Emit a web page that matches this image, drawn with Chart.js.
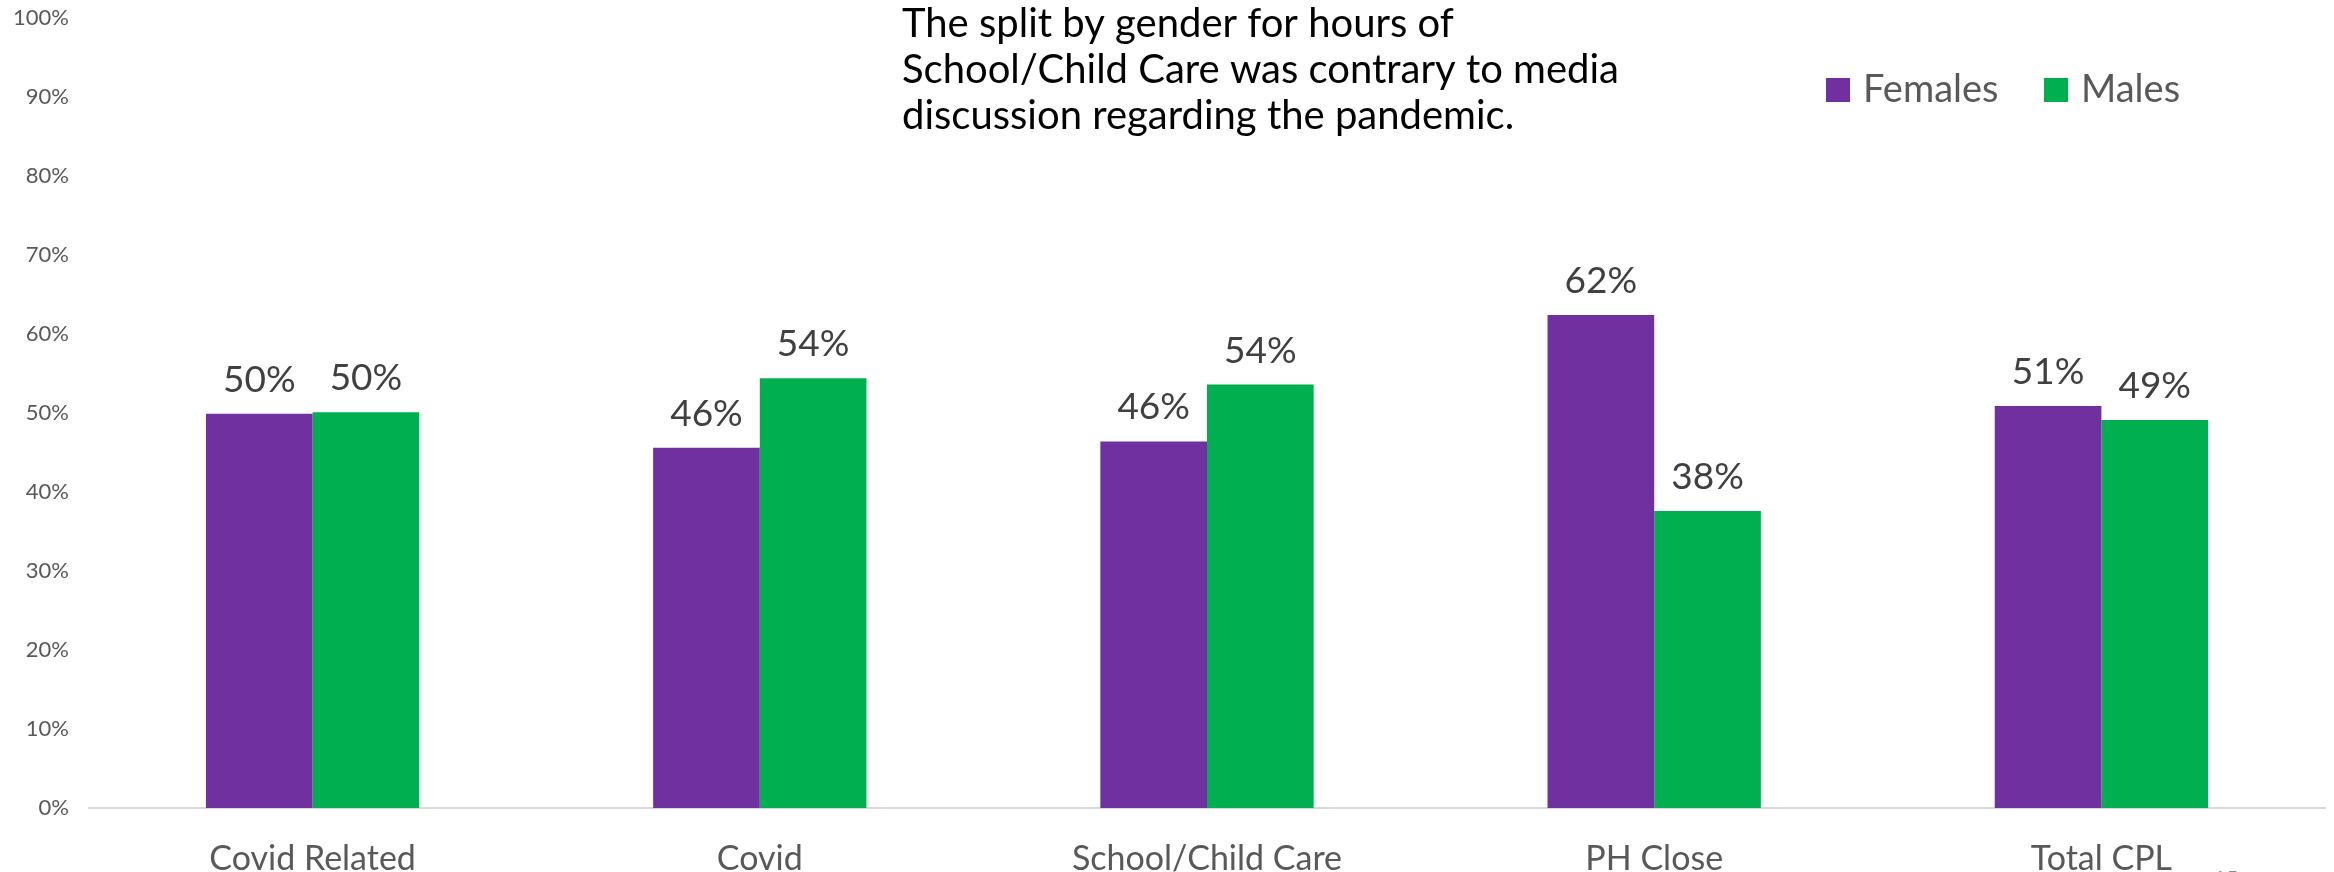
<!DOCTYPE html>
<html>
<head>
<meta charset="utf-8">
<script src="https://cdn.jsdelivr.net/npm/chart.js@4.4.1/dist/chart.umd.min.js"></script>
<style>
  html, body { margin: 0; padding: 0; background: #ffffff; overflow: hidden; }
  #wrap { width: 2334px; height: 872px; }
</style>
</head>
<body>
<div id="wrap"><canvas id="chart" width="2334" height="872"></canvas></div>
<script>
// Share of hours by gender for each leave type (percent)
const categories = ['Covid Related', 'Covid', 'School/Child Care', 'PH Close', 'Total CPL'];
const females = [49.9, 45.6, 46.4, 62.4, 50.9];
const males   = [50.1, 54.4, 53.6, 37.6, 49.1];
const seriesNames = ['Females', 'Males'];
const yTicks = [0, 10, 20, 30, 40, 50, 60, 70, 80, 90, 100];
const headline = [
  'The split by gender for hours of',
  'School/Child Care was contrary to media',
  'discussion regarding the pandemic.'
];
const pageNumber = '15';

const FONT = 'Lato, "Open Sans", sans-serif';
const PURPLE = '#7030A0';
const GREEN = '#00B050';

// Percent labels above each bar
const barLabels = {
  id: 'barLabels',
  afterDatasetsDraw(chart) {
    const ctx = chart.ctx;
    ctx.save();
    ctx.font = '37px ' + FONT;
    ctx.fillStyle = '#404040';
    ctx.textAlign = 'center';
    ctx.textBaseline = 'alphabetic';
    chart.data.datasets.forEach((ds, i) => {
      chart.getDatasetMeta(i).data.forEach((bar, j) => {
        ctx.fillText(Math.round(ds.data[j]) + '%', bar.x, bar.y - 22);
      });
    });
    ctx.restore();
  }
};

// Headline text, legend swatches and page number
const annotations = {
  id: 'annotations',
  afterDraw(chart) {
    const ctx = chart.ctx;
    ctx.save();
    ctx.fillStyle = '#000000';
    ctx.font = '40px ' + FONT;
    ctx.textAlign = 'left';
    ctx.textBaseline = 'alphabetic';
    headline.forEach((line, i) => ctx.fillText(line, 902, 37 + i * 46));

    const legendX = [1826, 2044];
    chart.data.datasets.forEach((ds, i) => {
      ctx.fillStyle = ds.backgroundColor;
      ctx.fillRect(legendX[i], 78, 24, 24);
      ctx.fillStyle = '#595959';
      ctx.font = '38px ' + FONT;
      ctx.textBaseline = 'alphabetic';
      ctx.fillText(ds.label, legendX[i] + 37, 102);
    });

    ctx.fillStyle = '#8C8C8C';
    ctx.font = '21px ' + FONT;
    ctx.textAlign = 'center';
    ctx.textBaseline = 'top';
    ctx.fillText(pageNumber, 2226, 869);
    ctx.restore();
  }
};

new Chart(document.getElementById('chart'), {
  type: 'bar',
  data: {
    labels: categories,
    datasets: [
      { label: seriesNames[0], data: females, backgroundColor: PURPLE },
      { label: seriesNames[1], data: males, backgroundColor: GREEN }
    ]
  },
  options: {
    responsive: false,
    animation: false,
    devicePixelRatio: 1,
    layout: { padding: { top: 18, right: 9, left: 0, bottom: 0 } },
    datasets: { bar: { categoryPercentage: 0.477, barPercentage: 1.0 } },
    plugins: {
      legend: { display: false },
      title: { display: false },
      tooltip: { enabled: false }
    },
    scales: {
      x: {
        grid: { display: false },
        border: { display: true, color: '#D9D9D9', width: 2 },
        ticks: { font: { family: FONT, size: 34 }, color: '#595959', padding: 23, maxRotation: 0 },
        afterFit(scale) {
          scale.height = 64;
          scale.paddingLeft = 0;
          scale.paddingRight = 0;
        }
      },
      y: {
        min: 0,
        max: 100,
        afterBuildTicks(scale) { scale.ticks = yTicks.map(v => ({ value: v })); },
        grid: { display: false },
        border: { display: false },
        ticks: {
          font: { family: FONT, size: 22 },
          color: '#595959',
          padding: 12,
          callback: v => v + '%'
        },
        afterFit(scale) {
          scale.width = 89;
          scale.paddingTop = 0;
          scale.paddingBottom = 0;
        }
      }
    }
  },
  plugins: [barLabels, annotations]
});
</script>
</body>
</html>
